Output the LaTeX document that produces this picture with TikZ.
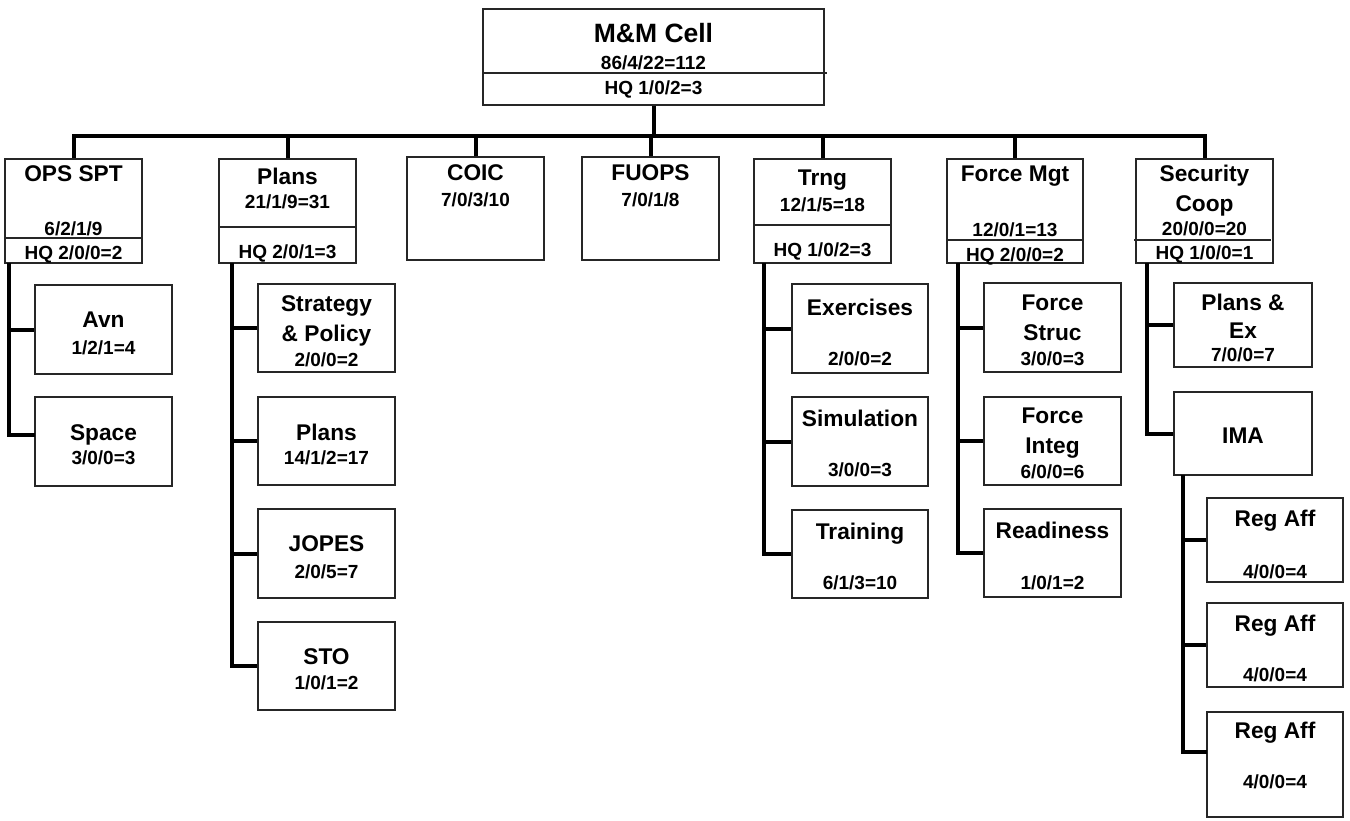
\documentclass[tikz,border=0pt]{standalone}
\usepackage{fontspec}
\setmainfont{Liberation Sans}
\tikzset{
  box/.style={draw=black!85, line width=1.2pt, fill=white, inner sep=0pt, rectangle},
  conn/.style={line width=4pt, line join=miter, draw=black},
  divl/.style={line width=1.2pt, draw=black!85},
  ttop/.style={font=\bfseries\fontsize{26.5}{26.5}\selectfont, text height=19pt, text depth=0pt, inner sep=0pt},
  ttl/.style={font=\bfseries\fontsize{22.7}{22.7}\selectfont, text height=16.3pt, text depth=0pt, inner sep=0pt},
  tnum/.style={font=\bfseries\fontsize{19}{19}\selectfont, text height=13.6pt, text depth=0pt, inner sep=0pt},
}
\newcommand\bx[5]{\node[box, minimum width={(#4-#2)*1pt}, minimum height={(#5-#3)*1pt}] (#1) at ({(#2+#4)/2},{(#3+#5)/2}) {};}
\begin{document}
\begin{tikzpicture}[x=1pt,y=-1pt]
\useasboundingbox (0,0) rectangle (1350,820);
% ---------- boxes ----------
\bx{top}{483}{9}{824}{105}
\bx{ops}{5}{159}{142}{263}
\bx{plans}{219}{159}{356}{263}
\bx{coic}{407}{157}{544}{260}
\bx{fuops}{582}{157}{719}{260}
\bx{trng}{754}{159}{891}{263}
\bx{fmgt}{947}{159}{1083}{263}
\bx{sec}{1136}{159}{1273}{263}
\bx{avn}{35}{285}{172}{374}
\bx{space}{35}{397}{172}{486}
\bx{strat}{258}{284}{395}{372}
\bx{plansb}{258}{397}{395}{485}
\bx{jopes}{258}{509}{395}{598}
\bx{sto}{258}{622}{395}{710}
\bx{exer}{792}{284}{928}{373}
\bx{simu}{792}{397}{928}{486}
\bx{trai}{792}{510}{928}{598}
\bx{fstr}{984}{283}{1121}{372}
\bx{fint}{984}{397}{1121}{485}
\bx{read}{984}{509}{1121}{597}
\bx{plex}{1174}{283}{1312}{367}
\bx{ima}{1174}{392}{1312}{475}
\bx{rega}{1207}{498}{1343}{582}
\bx{regb}{1207}{603}{1343}{687}
\bx{regc}{1207}{712}{1343}{817}
% ---------- dividers ----------
\draw[divl] (483,73) -- (827,73);
\draw[divl] (5,238) -- (142,238);
\draw[divl] (219,227) -- (356,227);
\draw[divl] (754,225) -- (891,225);
\draw[divl] (947,240) -- (1083,240);
\draw[divl] (1134,240) -- (1271,240);
% ---------- texts ----------
\node[ttop] (topA) at (top |- 0,33) {M\&M Cell};
\node[tnum] (topB) at (top |- 0,63) {86/4/22=112};
\node[tnum] (topC) at (top |- 0,88) {HQ 1/0/2=3};
\node[ttl] (opsA) at (ops |- 0,173) {OPS SPT};
\node[tnum] (opsB) at (ops |- 0,229) {6/2/1/9};
\node[tnum] (opsC) at (ops |- 0,253) {HQ 2/0/0=2};
\node[ttl] (plansA) at (plans |- 0,176) {Plans};
\node[tnum] (plansB) at (plans |- 0,202) {21/1/9=31};
\node[tnum] (plansC) at (plans |- 0,252) {HQ 2/0/1=3};
\node[ttl] (coicA) at (coic |- 0,172) {COIC};
\node[tnum] (coicB) at (coic |- 0,200) {7/0/3/10};
\node[ttl] (fuopsA) at (fuops |- 0,172) {FUOPS};
\node[tnum] (fuopsB) at (fuops |- 0,200) {7/0/1/8};
\node[ttl] (trngA) at (trng |- 0,177) {Trng};
\node[tnum] (trngB) at (trng |- 0,205) {12/1/5=18};
\node[tnum] (trngC) at (trng |- 0,250) {HQ 1/0/2=3};
\node[ttl] (fmgtA) at (fmgt |- 0,173) {Force Mgt};
\node[tnum] (fmgtB) at (fmgt |- 0,230) {12/0/1=13};
\node[tnum] (fmgtC) at (fmgt |- 0,255) {HQ 2/0/0=2};
\node[ttl] (secA) at (sec |- 0,173) {Security};
\node[ttl] (secB) at (sec |- 0,203) {Coop};
\node[tnum] (secC) at (sec |- 0,229) {20/0/0=20};
\node[tnum] (secD) at (sec |- 0,253) {HQ 1/0/0=1};
\node[ttl] (avnA) at (avn |- 0,319) {Avn};
\node[tnum] (avnB) at (avn |- 0,348) {1/2/1=4};
\node[ttl] (spaceA) at (space |- 0,432) {Space};
\node[tnum] (spaceB) at (space |- 0,458) {3/0/0=3};
\node[ttl] (stratA) at (strat |- 0,303) {Strategy};
\node[ttl] (stratB) at (strat |- 0,333) {\& Policy};
\node[tnum] (stratC) at (strat |- 0,360) {2/0/0=2};
\node[ttl] (plansbA) at (plansb |- 0,432) {Plans};
\node[tnum] (plansbB) at (plansb |- 0,458) {14/1/2=17};
\node[ttl] (jopesA) at (jopes |- 0,543) {JOPES};
\node[tnum] (jopesB) at (jopes |- 0,572) {2/0/5=7};
\node[ttl] (stoA) at (sto |- 0,656) {STO};
\node[tnum] (stoB) at (sto |- 0,683) {1/0/1=2};
\node[ttl] (exerA) at (exer |- 0,307) {Exercises};
\node[tnum] (exerB) at (exer |- 0,359) {2/0/0=2};
\node[ttl] (simuA) at (simu |- 0,418) {Simulation};
\node[tnum] (simuB) at (simu |- 0,470) {3/0/0=3};
\node[ttl] (traiA) at (trai |- 0,531) {Training};
\node[tnum] (traiB) at (trai |- 0,583) {6/1/3=10};
\node[ttl] (fstrA) at (fstr |- 0,302) {Force};
\node[ttl] (fstrB) at (fstr |- 0,332) {Struc};
\node[tnum] (fstrC) at (fstr |- 0,359) {3/0/0=3};
\node[ttl] (fintA) at (fint |- 0,415) {Force};
\node[ttl] (fintB) at (fint |- 0,445) {Integ};
\node[tnum] (fintC) at (fint |- 0,472) {6/0/0=6};
\node[ttl] (readA) at (read |- 0,530) {Readiness};
\node[tnum] (readB) at (read |- 0,583) {1/0/1=2};
\node[ttl] (plexA) at (plex |- 0,302) {Plans \&};
\node[ttl] (plexB) at (plex |- 0,330) {Ex};
\node[tnum] (plexC) at (plex |- 0,355) {7/0/0=7};
\node[ttl] (imaA) at (ima |- 0,435) {IMA};
\node[ttl] (regaA) at (rega |- 0,518) {Reg Aff};
\node[tnum] (regaB) at (rega |- 0,572) {4/0/0=4};
\node[ttl] (regbA) at (regb |- 0,623) {Reg Aff};
\node[tnum] (regbB) at (regb |- 0,675) {4/0/0=4};
\node[ttl] (regcA) at (regc |- 0,730) {Reg Aff};
\node[tnum] (regcB) at (regc |- 0,782) {4/0/0=4};
% ---------- connectors ----------
\coordinate (busy) at (0,136);
\draw[conn] (top.south) -- (top.south |- busy);
\draw[conn] (ops.north) -- (ops.north |- busy) -- (sec.north |- busy) -- (sec.north);
\foreach \n in {plans,coic,fuops,trng,fmgt} \draw[conn] (\n.north) -- (\n.north |- busy);
% OPS SPT children
\coordinate (opsv) at (9,263);
\coordinate (spc) at (35,435);
\draw[conn] (opsv) |- (spc);
\draw[conn] (avn.west) -- (avn.west -| opsv);
% Plans children
\coordinate (plv) at (232,263);
\draw[conn] (plv) |- (sto.west);
\foreach \n in {strat,plansb,jopes} \draw[conn] (\n.west) -- (\n.west -| plv);
% Trng children
\coordinate (trv) at (764,263);
\draw[conn] (trv) |- (trai.west);
\foreach \n in {exer,simu} \draw[conn] (\n.west) -- (\n.west -| trv);
% Force Mgt children
\coordinate (fmv) at (958,263);
\draw[conn] (fmv) |- (read.west);
\foreach \n in {fstr,fint} \draw[conn] (\n.west) -- (\n.west -| fmv);
% Security Coop children
\coordinate (scv) at (1147,263);
\draw[conn] (scv) |- (ima.west);
\draw[conn] (plex.west) -- (plex.west -| scv);
% IMA children
\coordinate (imv) at (1183,475);
\coordinate (rcc) at (1207,752);
\draw[conn] (imv) |- (rcc);
\foreach \n in {rega,regb} \draw[conn] (\n.west) -- (\n.west -| imv);
\end{tikzpicture}
\end{document}
